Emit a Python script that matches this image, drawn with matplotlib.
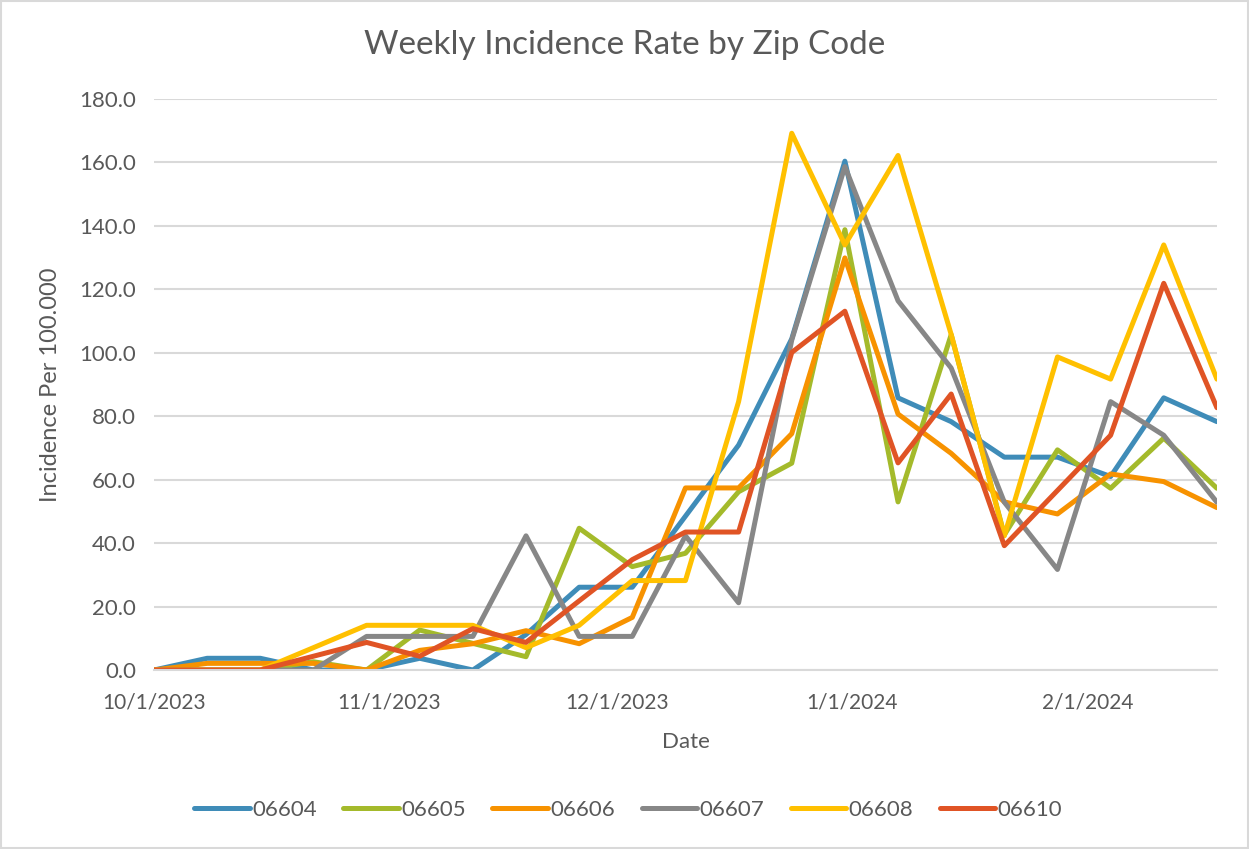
import matplotlib
matplotlib.use('Agg')
import matplotlib.pyplot as plt
import pandas as pd
from matplotlib.patches import Rectangle

# weekly report dates
dates = ["2023-10-01", "2023-10-08", "2023-10-15", "2023-10-22", "2023-10-29",
         "2023-11-05", "2023-11-12", "2023-11-19", "2023-11-26", "2023-12-03",
         "2023-12-10", "2023-12-17", "2023-12-24", "2023-12-31", "2024-01-07",
         "2024-01-14", "2024-01-21", "2024-01-28", "2024-02-04", "2024-02-11",
         "2024-02-18"]

zip_06604 = [0, 3.7, 3.7, 0, 0, 3.7, 0, 11.2, 26.1, 26.1, 48.5, 70.9, 104.4,
             160.4, 85.8, 78.3, 67.1, 67.1, 61.0, 85.8, 78.3]
zip_06605 = [0, 0, 0, 2.6, 0, 12.6, 8.4, 4.2, 44.7, 32.6, 36.8, 56.2, 65.2,
             138.8, 53.0, 105.7, 42.6, 69.4, 57.3, 73.1, 57.3]
zip_06606 = [0, 2.1, 2.1, 2.1, 0, 6.2, 8.3, 12.4, 8.3, 16.6, 57.4, 57.4, 74.5,
             129.9, 80.7, 68.3, 53.0, 49.2, 61.8, 59.4, 51.2]
zip_06607 = [0, 0, 0, 0, 10.6, 10.6, 10.6, 42.3, 10.6, 10.6, 42.3, 21.2, 104.0,
             158.7, 116.4, 95.2, 52.9, 31.7, 84.6, 74.0, 52.9]
zip_06608 = [0, 0, 0, 7.05, 14.1, 14.1, 14.1, 7.05, 14.1, 28.2, 28.2, 84.6, 169.2,
             134.0, 162.2, 105.8, 42.3, 98.7, 91.7, 134.0, 91.7]
zip_06610 = [0, 0, 0, 4.35, 8.7, 4.35, 13.05, 8.7, 21.8, 34.8, 43.5, 43.5, 100.1,
             113.1, 65.3, 87.0, 39.2, 56.6, 74.0, 121.9, 82.7]

series_names = ["06604", "06605", "06606", "06607", "06608", "06610"]
series_values = [zip_06604, zip_06605, zip_06606, zip_06607, zip_06608, zip_06610]
colors = ["#3F8CB8", "#A4BA2B", "#F79200", "#878787", "#FFC000", "#E05425"]

tick_dates = ["2023-10-01", "2023-11-01", "2023-12-01", "2024-01-01", "2024-02-01"]
tick_labels = ["10/1/2023", "11/1/2023", "12/1/2023", "1/1/2024", "2/1/2024"]

plt.rcParams['font.family'] = ['Lato', 'DejaVu Sans']
text_color = '#595959'
grid_color = '#D9D9D9'

fig = plt.figure(figsize=(12.49, 8.49), dpi=100)
ax = fig.add_axes([0.1233, 0.2108, 0.851, 0.6726])

x = pd.to_datetime(dates)
for name, vals, col in zip(series_names, series_values, colors):
    ax.plot(x, vals, color=col, linewidth=3.6, label=name,
            solid_capstyle='round', solid_joinstyle='round')

ax.set_ylim(0, 180)
ax.set_yticks(range(0, 181, 20))
ax.set_yticklabels([f"{v:.1f}" for v in range(0, 181, 20)])
ax.set_xlim(x[0], x[-1])
ax.set_xticks(pd.to_datetime(tick_dates))
ax.set_xticklabels(tick_labels)

ax.grid(axis='y', color=grid_color, linewidth=1.5)
ax.set_axisbelow(True)
for side in ['top', 'right', 'left']:
    ax.spines[side].set_visible(False)
ax.spines['bottom'].set_color(grid_color)
ax.spines['bottom'].set_linewidth(1.5)
ax.tick_params(axis='both', length=0, labelsize=15, colors=text_color)
ax.tick_params(axis='y', labelsize=16, pad=13)
ax.tick_params(axis='x', pad=16)

fig.text(0.5, 0.947, 'Weekly Incidence Rate by Zip Code', fontsize=24,
         color=text_color, ha='center', va='center')
ax.set_xlabel('Date', fontsize=16, color=text_color, labelpad=14)
ax.set_ylabel('Incidence Per 100.000', fontsize=17, color=text_color, labelpad=13)

leg = fig.legend(loc='center', bbox_to_anchor=(0.503, 0.046), ncol=6, frameon=False,
                 fontsize=16, handlelength=2.5, handletextpad=0.1,
                 columnspacing=1.2)
for t in leg.get_texts():
    t.set_color(text_color)

fig.patches.append(Rectangle((0.001, 0.001), 0.998, 0.998, transform=fig.transFigure,
                             fill=False, edgecolor=grid_color, linewidth=1.5))

fig.savefig('out.png', dpi=100)
